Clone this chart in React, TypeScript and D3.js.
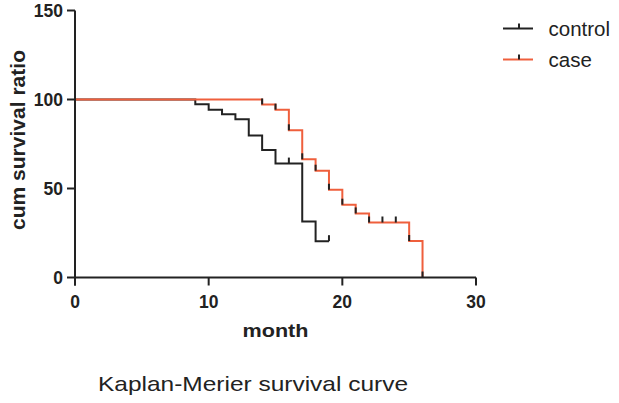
import React from "react";
import * as d3 from "d3";

const controlTimes = [0, 9, 10, 11, 12, 13, 14, 15, 17, 18, 19];
const controlSurv = [100, 97.3, 94.2, 91.7, 88.9, 79.8, 71.6, 64.0, 31.4, 20.4, 20.4];
const controlCensor = [16, 19];

const caseTimes = [0, 14, 15, 16, 17, 18, 19, 20, 21, 22, 25, 26];
const caseSurv = [100, 97.2, 94.3, 82.7, 66.4, 60.0, 49.3, 40.9, 36.0, 30.9, 20.5, 0];
const caseCensor = [14, 15, 16, 17, 18, 19, 20, 21, 22, 23, 24, 25, 26];

const xTicks = [0, 10, 20, 30];
const yTicks = [0, 50, 100, 150];

const seriesNames = ["control", "case"];
const seriesColors = ["#222222", "#ef5f3c"];

const W = 619;
const H = 403;

function survAt(times: number[], surv: number[], t: number) {
  let v = surv[0];
  for (let i = 0; i < times.length; i++) if (times[i] <= t) v = surv[i];
  return v;
}

export default function App() {
  const x = d3.scaleLinear().domain([0, 30]).range([75, 476]);
  const y = d3.scaleLinear().domain([0, 150]).range([277.5, 10.5]);
  const line = d3
    .line<[number, number]>()
    .x((d) => x(d[0]))
    .y((d) => y(d[1]))
    .curve(d3.curveStepAfter);

  const controlPts = controlTimes.map((t, i) => [t, controlSurv[i]] as [number, number]);
  const casePts = caseTimes.map((t, i) => [t, caseSurv[i]] as [number, number]);

  const tickLen = 6;
  const font = "'Liberation Sans', Arial, sans-serif";
  const ink = "#222";

  return (
    <svg
      width={W}
      height={H}
      style={{ position: "absolute", left: 0, top: 0, background: "#fff" }}
      fontFamily={font}
    >
      {/* curves */}
      <path d={line(controlPts) || ""} fill="none" stroke={seriesColors[0]} strokeWidth={2} />
      <path d={line(casePts) || ""} fill="none" stroke={seriesColors[1]} strokeWidth={2} />
      {/* censor ticks */}
      {controlCensor.map((t) => {
        const v = survAt(controlTimes, controlSurv, t);
        return (
          <line key={"cc" + t} x1={x(t)} x2={x(t)} y1={y(v)} y2={y(v) - tickLen} stroke={ink} strokeWidth={2} />
        );
      })}
      {caseCensor.map((t) => {
        const v = survAt(caseTimes, caseSurv, t);
        return (
          <line key={"ca" + t} x1={x(t)} x2={x(t)} y1={y(v)} y2={y(v) - tickLen} stroke={ink} strokeWidth={2} />
        );
      })}

      {/* axes */}
      <line x1={x(0)} x2={x(0)} y1={y(150)} y2={y(0) + 8} stroke={ink} strokeWidth={2} />
      <line x1={x(0)} x2={x(30)} y1={y(0)} y2={y(0)} stroke={ink} strokeWidth={2} />
      {yTicks.map((v) => (
        <g key={"yt" + v}>
          <line x1={x(0) - 8} x2={x(0)} y1={y(v)} y2={y(v)} stroke={ink} strokeWidth={2} />
          <text x={63} y={y(v)} dy="0.36em" textAnchor="end" fontSize={17.5} fontWeight="bold" fill={ink}>
            {v}
          </text>
        </g>
      ))}
      {xTicks.map((v) => (
        <g key={"xt" + v}>
          <line x1={x(v)} x2={x(v)} y1={y(0)} y2={y(0) + 8} stroke={ink} strokeWidth={2} />
          <text x={x(v)} y={307.5} textAnchor="middle" fontSize={17.5} fontWeight="bold" fill={ink}>
            {v}
          </text>
        </g>
      ))}

      {/* axis titles */}
      <text
        x={275.5}
        y={336.5}
        textAnchor="middle"
        fontSize={19}
        fontWeight="bold"
        fill={ink}
        textLength={66}
        lengthAdjust="spacingAndGlyphs"
      >
        month
      </text>
      <text
        transform="translate(25,140) rotate(-90)"
        textAnchor="middle"
        fontSize={20.5}
        fontWeight="bold"
        fill={ink}
        textLength={180}
        lengthAdjust="spacingAndGlyphs"
      >
        cum survival ratio
      </text>

      {/* legend */}
      {seriesNames.map((name, i) => {
        const ly = 28.5 + i * 31;
        return (
          <g key={name}>
            <line x1={503} x2={533} y1={ly} y2={ly} stroke={seriesColors[i]} strokeWidth={2} />
            <line x1={519} x2={519} y1={ly} y2={ly - 5} stroke={ink} strokeWidth={2} />
            <text x={548.5} y={ly + 7} fontSize={20.5} fill={ink}>
              {name}
            </text>
          </g>
        );
      })}

      {/* title */}
      <text
        x={98}
        y={391}
        fontSize={21}
        fill={ink}
        textLength={310}
        lengthAdjust="spacingAndGlyphs"
      >
        Kaplan-Merier survival curve
      </text>
    </svg>
  );
}
